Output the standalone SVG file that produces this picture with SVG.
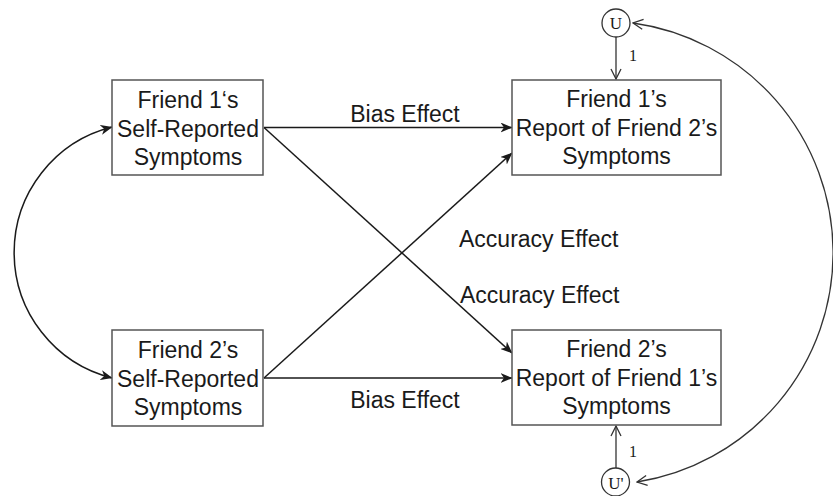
<svg xmlns="http://www.w3.org/2000/svg" width="833" height="496" viewBox="0 0 833 496">
  <style>
    .box { fill: #fff; stroke: #555; stroke-width: 1.5; }
    .lbl { font-family: "Liberation Sans", Arial, sans-serif; font-size: 23px; fill: #1a1a1a; }
    .ser { font-family: "Liberation Serif", "Times New Roman", serif; fill: #1a1a1a; }
    .edge { fill: none; stroke: #1a1a1a; stroke-width: 1.5; }
    .thin { fill: none; stroke: #333; stroke-width: 1.3; }
    .circ { fill: #fff; stroke: #333; stroke-width: 1.3; }
  </style>
  <defs>
    <marker id="stealth" viewBox="0 0 12 10" refX="11.5" refY="5" markerWidth="12" markerHeight="10" markerUnits="userSpaceOnUse" orient="auto-start-reverse">
      <path d="M0,0 L12,5 L0,10 L3.5,5 Z" fill="#1a1a1a"/>
    </marker>
    <marker id="openv" viewBox="0 0 12 12" refX="11" refY="6" markerWidth="12" markerHeight="12" markerUnits="userSpaceOnUse" orient="auto-start-reverse">
      <path d="M1,1 L11,6 L1,11" fill="none" stroke="#333" stroke-width="1.3"/>
    </marker>
  </defs>

  <g id="connectors">
    <line class="edge" x1="264" y1="127.5" x2="512" y2="127.5" marker-end="url(#stealth)"/>
    <line class="edge" x1="264" y1="378" x2="512" y2="378" marker-end="url(#stealth)"/>
    <line class="edge" x1="264" y1="127.5" x2="512" y2="353" marker-end="url(#stealth)"/>
    <line class="edge" x1="264" y1="378" x2="512" y2="153" marker-end="url(#stealth)"/>
    <path class="edge" d="M112,127 A129.4,129.4 0 0 0 112,378" marker-start="url(#stealth)" marker-end="url(#stealth)"/>
    <line class="thin" x1="616" y1="37" x2="616" y2="79" marker-end="url(#openv)"/>
    <line class="thin" x1="616" y1="469" x2="616" y2="426" marker-end="url(#openv)"/>
    <path class="thin" d="M637,482 A232,232 0 0 0 633,23" marker-start="url(#openv)" marker-end="url(#openv)"/>
    <text class="lbl" x="405" y="122" text-anchor="middle">Bias Effect</text>
    <text class="lbl" x="405" y="408" text-anchor="middle">Bias Effect</text>
    <text class="lbl" x="459" y="247">Accuracy Effect</text>
    <text class="lbl" x="460" y="303">Accuracy Effect</text>
    <text class="ser" x="629" y="61" font-size="16">1</text>
    <text class="ser" x="629" y="457" font-size="16">1</text>
  </g>

  <g id="friend1-self">
    <rect class="box" x="112" y="80" width="151" height="95"/>
    <text class="lbl" x="188" y="108" text-anchor="middle">Friend 1‘s</text>
    <text class="lbl" x="188" y="136.5" text-anchor="middle">Self-Reported</text>
    <text class="lbl" x="188" y="165" text-anchor="middle">Symptoms</text>
  </g>

  <g id="friend2-self">
    <rect class="box" x="112" y="330" width="151" height="96"/>
    <text class="lbl" x="188" y="358" text-anchor="middle">Friend 2’s</text>
    <text class="lbl" x="188" y="387" text-anchor="middle">Self-Reported</text>
    <text class="lbl" x="188" y="415" text-anchor="middle">Symptoms</text>
  </g>

  <g id="friend1-report">
    <rect class="box" x="512" y="80" width="209" height="95"/>
    <text class="lbl" x="616.5" y="107" text-anchor="middle">Friend 1’s</text>
    <text class="lbl" x="616.5" y="135.5" text-anchor="middle">Report of Friend 2’s</text>
    <text class="lbl" x="616.5" y="163.5" text-anchor="middle">Symptoms</text>
  </g>

  <g id="friend2-report">
    <rect class="box" x="512" y="330" width="209" height="95"/>
    <text class="lbl" x="616.5" y="357" text-anchor="middle">Friend 2’s</text>
    <text class="lbl" x="616.5" y="386" text-anchor="middle">Report of Friend 1’s</text>
    <text class="lbl" x="616.5" y="414" text-anchor="middle">Symptoms</text>
  </g>

  <g id="U">
    <circle class="circ" cx="616" cy="23" r="14"/>
    <text class="ser" x="616" y="29" font-size="17" text-anchor="middle">U</text>
  </g>

  <g id="U-prime">
    <circle class="circ" cx="615.5" cy="482" r="14"/>
    <text class="ser" x="616" y="488.5" font-size="17" text-anchor="middle">U'</text>
  </g>
</svg>
